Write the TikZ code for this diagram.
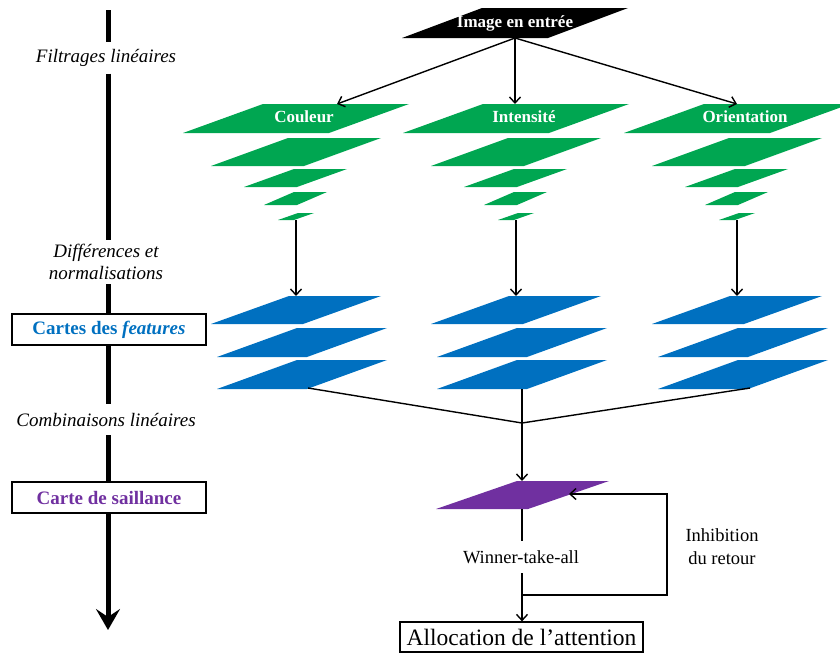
\documentclass[tikz,border=0pt]{standalone}
\usepackage{fontspec}
\setmainfont{Liberation Serif}
\usetikzlibrary{arrows.meta}
\definecolor{pgreen}{HTML}{00A651}
\definecolor{pblue}{HTML}{0070C0}
\definecolor{ppurple}{HTML}{7030A0}
\newcommand\plg[6]{\fill[#6] (#1,#2) -- ++(#3,0) -- ++(#5,-#4) -- ++(-#3,0) -- cycle;}
\begin{document}
\begin{tikzpicture}[x=1pt,y=-1pt,
  conn/.style={line width=1.4pt, -{Straight Barb[length=6pt,width=11pt]}},
  plain/.style={line width=1.4pt},
  axis/.style={line width=5pt},
  axlbl/.style={font=\fontsize{19}{22}\selectfont\itshape, inner sep=0pt, minimum height=31pt, align=center},
  glbl/.style={font=\fontsize{17}{20}\selectfont\bfseries, text=white, inner sep=0pt},
  leftbox/.style={draw, line width=1.4pt, minimum width=194pt, minimum height=31pt, inner sep=0pt, font=\fontsize{19}{22}\selectfont\bfseries},
  txt/.style={font=\fontsize{18.5}{23}\selectfont, inner sep=0pt, align=center}
]
\useasboundingbox (0,0) rectangle (840,653);

% ---------- left axis ----------
\coordinate (ax0) at (108,10);
\node[axlbl] (filt) at (106,58) {Filtrages linéaires};
\node[axlbl, minimum height=44pt] (diff) at (106,262) {Différences et\\normalisations};
\node[leftbox, text=pblue] (cf) at (109,329.5) {Cartes des \textit{features}};
\node[axlbl] (comb) at (106,419.5) {Combinaisons linéaires};
\node[leftbox, text=ppurple] (cs) at (109,497.5) {Carte de saillance};
\coordinate (axend) at (108,630);
\draw[axis] (ax0) -- (ax0 |- filt.north);
\draw[axis] (ax0 |- filt.south) -- (ax0 |- diff.north);
\draw[axis] (ax0 |- diff.south) -- (ax0 |- cf.north);
\draw[axis] (ax0 |- cf.south) -- (ax0 |- comb.north);
\draw[axis] (ax0 |- comb.south) -- (ax0 |- cs.north);
\draw[axis, -{Stealth[length=21pt,width=24pt,inset=8pt]}] (ax0 |- cs.south) -- (axend);

% ---------- input image ----------
\plg{402}{38}{146}{30}{80}{black}
\node[glbl] (img) at (515,23) {Image en entrée};
\coordinate (imgb) at (515,38);

% ---------- three channels ----------
\foreach \cx/\nm/\lab/\tip in {296/c/Couleur/337, 516/i/Intensité/515, 737/o/Orientation/737}{
  % green pyramid
  \plg{\cx-113}{133}{146}{29}{80}{pgreen}
  \plg{\cx-85}{166}{93}{28}{77}{pgreen}
  \plg{\cx-52}{187}{53}{18}{50}{pgreen}
  \plg{\cx-32}{205}{33}{13}{30}{pgreen}
  \plg{\cx-18}{220}{16}{7}{20}{pgreen}
  \node[glbl] (\nm lab) at (\cx+8,117) {\lab};
  \coordinate (\nm top) at (\tip,104);
  \draw[conn] (imgb) -- (\nm top);
  % blue feature maps
  \plg{\cx-85}{324}{92}{28}{78}{pblue}
  \plg{\cx-79}{357}{90}{29}{80}{pblue}
  \plg{\cx-79}{389}{90}{29}{80}{pblue}
  \coordinate (\nm g) at (\cx,220);
  \coordinate (\nm b) at (\cx,296);
  \draw[conn] (\nm g) -- (\nm b);
}

% ---------- combination ----------
\coordinate (cbot) at (308,388);
\coordinate (ibot) at (522,389);
\coordinate (obot) at (750,388);
\coordinate (merge) at (522,423);
\draw[plain] (cbot) -- (merge);
\draw[plain] (obot) -- (merge);
\draw[plain] (ibot) -- (merge);

% ---------- saliency map ----------
\plg{436}{509}{92}{28}{81}{ppurple}
\coordinate (ptop) at (522,481);
\coordinate (pbot) at (522,509);
\coordinate (pin) at (569,494);
\draw[conn] (merge) -- (ptop);

\node[txt, minimum height=32pt] (wta) at (521,557) {Winner-take-all};
\node[draw, line width=1.2pt, minimum width=243pt, minimum height=30pt, inner sep=0pt,
      font=\fontsize{23.5}{26}\selectfont] (alloc) at (521.5,637) {Allocation de l’attention};
\draw[plain] (pbot) -- (pbot |- wta.north);
\draw[conn] (pbot |- wta.south) -- (pbot |- alloc.north);

\coordinate (fb) at (522,595);
\coordinate (fbr) at (667,595);
\coordinate (fbt) at (667,494);
\draw[conn] (fb) -- (fbr) -- (fbt) -- (pin);
\node[txt] (inhib) at (722,547) {Inhibition\\du retour};
\end{tikzpicture}
\end{document}
